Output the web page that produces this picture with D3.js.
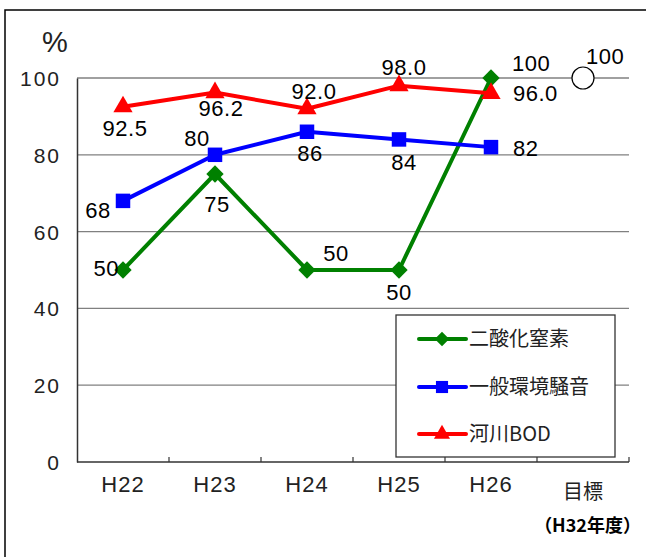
<!DOCTYPE html>
<html>
<head>
<meta charset="utf-8">
<script src="https://cdn.jsdelivr.net/npm/d3@7"></script>
<style>
  body { margin: 0; background: #fff; }
  text { font-family: "Liberation Sans", Arial, sans-serif; }
</style>
</head>
<body>
<div class="chart"></div>
<script>
// categories and values
var years = ["H22", "H23", "H24", "H25", "H26", "目標"];
var yTicks = [0, 20, 40, 60, 80, 100];
var no2 = [50, 75, 50, 50, 100];
var noise = [68, 80, 86, 84, 82];
var bod = [92.5, 96.2, 92.0, 98.0, 96.0];
var bodLabels = ["92.5", "96.2", "92.0", "98.0", "96.0"];
var target = 100;

// where each value label sits relative to its point: [dx, dy, anchor]
var no2Pos = [[-4, 6, "end"], [2, 38, "middle"], [29, -9, "middle"], [0, 30, "middle"], [21, -7, "start"]];
var noisePos = [[-25, 17, "middle"], [-18, -9, "middle"], [3, 29, "middle"], [5, 31, "middle"], [22, 9, "start"]];
var bodPos = [[2, 29, "middle"], [6, 23, "middle"], [7, -10, "middle"], [5, -11, "middle"], [22, 8, "start"]];

var series = [
  { name: "二酸化窒素", values: no2, color: "#008000", shape: d3.symbolSquare, size: 150, rotate: 45, pos: no2Pos },
  { name: "一般環境騒音", values: noise, color: "#0000ff", shape: d3.symbolSquare, size: 210, rotate: 0, pos: noisePos },
  { name: "河川BOD", values: bod, color: "#ff0000", shape: d3.symbolTriangle, size: 160, rotate: 0, pos: bodPos, labels: bodLabels }
];

var svg = d3.select(".chart").append("svg")
    .attr("width", 646)
    .attr("height", 557);

// outer frame, cut off at right and bottom
svg.append("rect")
    .attr("x", 5).attr("y", 10)
    .attr("width", 660).attr("height", 560)
    .attr("fill", "none")
    .attr("stroke", "#000")
    .attr("stroke-width", 1.5);

var x = d3.scaleBand()
    .domain(years)
    .range([77, 629]);

var y = d3.scaleLinear()
    .domain([0, 100])
    .range([462, 78]);

function cx(i) { return x(years[i]) + x.bandwidth() / 2; }

// grid lines
svg.append("g")
    .selectAll("line")
    .data(yTicks.filter(function (d) { return d > 0; }))
    .enter()
        .append("line")
        .attr("x1", 77).attr("x2", 629)
        .attr("y1", function (d) { return y(d); })
        .attr("y2", function (d) { return y(d); })
        .attr("stroke", "#808080")
        .attr("stroke-width", 1.3);

// y axis
var yAxis = svg.append("g")
    .attr("transform", "translate(77,0)")
    .call(d3.axisLeft(y).tickValues(yTicks).tickSize(0).tickPadding(16));
yAxis.select(".domain").attr("stroke", "#333").attr("stroke-width", 1.5);
yAxis.selectAll("text")
    .attr("font-size", 21)
    .attr("letter-spacing", 2)
    .attr("fill", "#222")
    .attr("dy", "0.36em")
    .style("font-family", "'Liberation Sans', Arial, sans-serif");

// x axis with ticks pointing up between categories
var xAxis = svg.append("g")
    .attr("transform", "translate(0,462)");
xAxis.append("line")
    .attr("x1", 77).attr("x2", 629)
    .attr("stroke", "#333").attr("stroke-width", 1.5);
xAxis.selectAll(".tk")
    .data(years)
    .enter()
        .append("line")
        .attr("class", "tk")
        .attr("x1", function (d) { return x(d) + x.bandwidth(); })
        .attr("x2", function (d) { return x(d) + x.bandwidth(); })
        .attr("y1", 0).attr("y2", -5)
        .attr("stroke", "#333").attr("stroke-width", 1.2);
xAxis.selectAll(".lbl")
    .data(years)
    .enter()
        .append("text")
        .attr("class", "lbl")
        .attr("x", function (d) { return x(d) + x.bandwidth() / 2; })
        .attr("y", function (d) { return d === "目標" ? 37 : 30; })
        .attr("text-anchor", "middle")
        .attr("font-size", function (d) { return d === "目標" ? 20 : 22; })
        .attr("letter-spacing", function (d) { return d === "目標" ? 0 : 1; })
        .attr("fill", "#222")
        .style("font-family", function (d) { return d === "目標" ? "'Noto Sans CJK JP', sans-serif" : null; })
        .text(function (d) { return d; });

svg.append("text")
    .attr("x", 641).attr("y", 532)
    .attr("text-anchor", "end")
    .attr("font-size", 18)
    .attr("font-weight", "bold")
    .style("font-family", "'Noto Sans CJK JP', sans-serif")
    .text("（H32年度）");

svg.append("text")
    .attr("x", 55).attr("y", 52)
    .attr("text-anchor", "middle")
    .attr("font-size", 29)
    .attr("fill", "#222")
    .text("%");

// lines, markers and value labels
var line = d3.line()
    .x(function (d, i) { return cx(i); })
    .y(function (d) { return y(d); });

series.forEach(function (s) {
  svg.append("path")
      .datum(s.values)
      .attr("d", line)
      .attr("fill", "none")
      .attr("stroke", s.color)
      .attr("stroke-width", 4)
      .attr("stroke-linejoin", "round");

  svg.selectAll(null)
      .data(s.values)
      .enter()
          .append("path")
          .attr("d", d3.symbol().type(s.shape).size(s.size))
          .attr("transform", function (d, i) { return "translate(" + cx(i) + "," + y(d) + ") rotate(" + s.rotate + ")"; })
          .attr("fill", s.color);

  svg.selectAll(null)
      .data(s.values)
      .enter()
          .append("text")
          .attr("x", function (d, i) { return cx(i) + s.pos[i][0]; })
          .attr("y", function (d, i) { return y(d) + s.pos[i][1]; })
          .attr("text-anchor", function (d, i) { return s.pos[i][2]; })
          .attr("font-size", 22)
          .attr("letter-spacing", 0.5)
          .attr("fill", "#000")
          .text(function (d, i) { return s.labels ? s.labels[i] : d; });
});

// target marker
svg.append("circle")
    .attr("cx", cx(5)).attr("cy", y(target))
    .attr("r", 11)
    .attr("fill", "#fff")
    .attr("stroke", "#000")
    .attr("stroke-width", 1.2);
svg.append("text")
    .attr("x", cx(5) + 3).attr("y", y(target) - 14)
    .attr("font-size", 22)
    .attr("letter-spacing", 0.5)
    .text(target);

// legend
var legend = svg.append("g");
legend.append("rect")
    .attr("x", 396).attr("y", 315)
    .attr("width", 219).attr("height", 142)
    .attr("fill", "#fff")
    .attr("stroke", "#333")
    .attr("stroke-width", 1.3);

var rows = legend.selectAll(".row")
    .data(series)
    .enter()
        .append("g")
        .attr("class", "row")
        .attr("transform", function (d, i) { return "translate(0," + [339, 387, 434][i] + ")"; });
rows.append("line")
    .attr("x1", 419).attr("x2", 466)
    .attr("stroke", function (d) { return d.color; })
    .attr("stroke-width", 4)
    .attr("stroke-linecap", "round");
rows.append("path")
    .attr("d", function (d) { return d3.symbol().type(d.shape).size(d.size * 0.7)(); })
    .attr("transform", function (d) { return "translate(442,0) rotate(" + d.rotate + ")"; })
    .attr("fill", function (d) { return d.color; });
rows.append("text")
    .attr("x", 469).attr("y", 0)
    .attr("dy", "0.36em")
    .attr("font-size", 20)
    .attr("fill", "#222")
    .style("font-family", "'Noto Sans CJK JP', sans-serif")
    .text(function (d) { return d.name; });
</script>
</body>
</html>
